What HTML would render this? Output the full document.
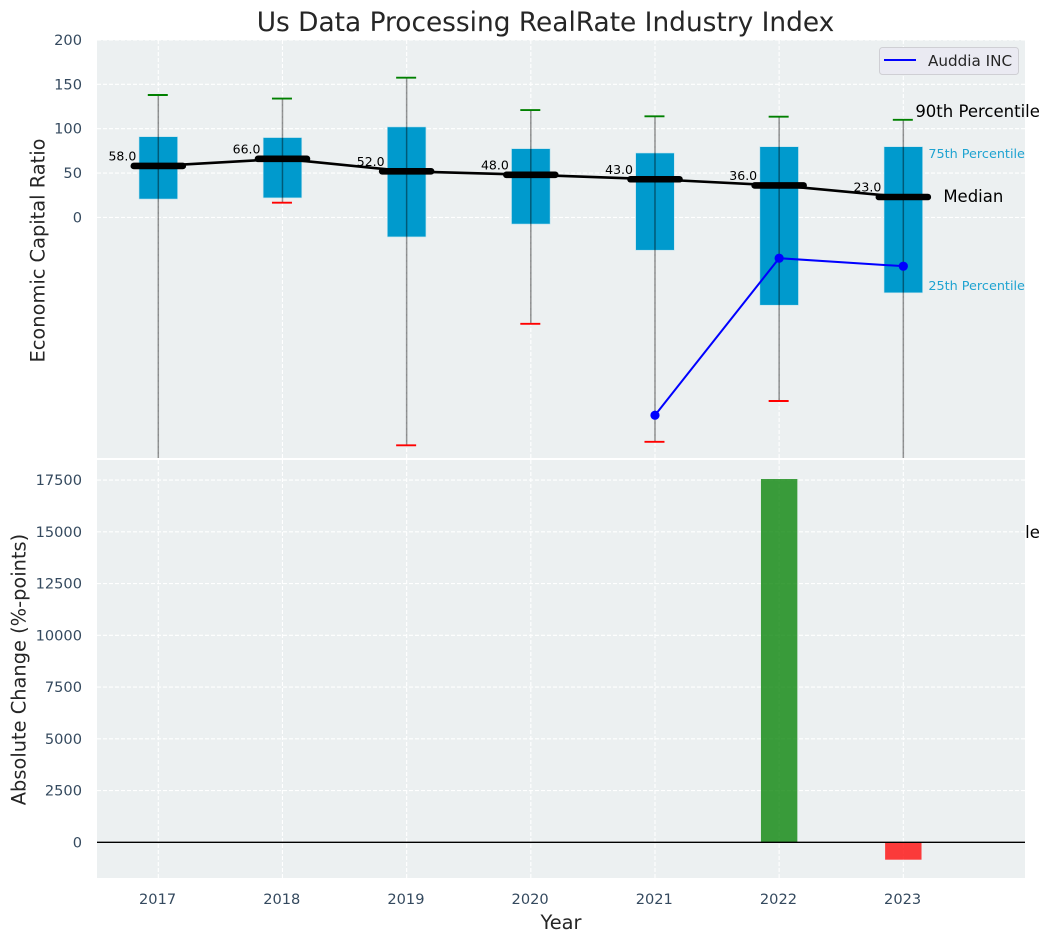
<!DOCTYPE html>
<html lang="en">
<head>
<meta charset="utf-8">
<title>Us Data Processing RealRate Industry Index</title>
<style>
html,body{margin:0;padding:0;background:#fff;width:1050px;height:942px;overflow:hidden}
svg{display:block;font-family:"DejaVu Sans","Liberation Sans",sans-serif}
.tick{font-size:14.6px;fill:#34495e}
.ax{font-size:19.4px;fill:#262626}
.val{font-size:12.5px;fill:#000}
.ann{font-size:16.5px;fill:#000}
.ann2{font-size:12.8px;fill:#1fa3d1}
</style>
</head>
<body>
<svg id="chart" xmlns="http://www.w3.org/2000/svg" width="1050" height="942" viewBox="0 0 1050 942">
  <defs>
    <clipPath id="top-clip"><rect x="97" y="40" width="928" height="418"></rect></clipPath>
    <clipPath id="bot-clip"><rect x="97" y="460" width="928" height="418"></rect></clipPath>
  </defs>
  <rect x="0" y="0" width="1050" height="942" fill="#fff"></rect>
  <rect x="97" y="40" width="928" height="418" fill="#ecf0f1"></rect>
  <g id="top-grid"></g>
  <g id="top-marks" clip-path="url(#top-clip)"></g>
  <g id="annotations"></g>
  <rect x="97" y="460" width="928" height="418" fill="#ecf0f1"></rect>
  <g id="bot-grid"></g>
  <g id="bot-marks" clip-path="url(#bot-clip)"></g>
  <g id="tick-labels"></g>

  <text x="545.5" y="31" text-anchor="middle" font-size="26.4" fill="#262626">Us Data Processing RealRate Industry Index</text>
  <text transform="translate(44.5,250.5) rotate(-90)" text-anchor="middle" class="ax">Economic Capital Ratio</text>
  <text transform="translate(25.5,669.5) rotate(-90)" text-anchor="middle" class="ax">Absolute Change (%-points)</text>
  <text x="561" y="929" text-anchor="middle" class="ax">Year</text>

  <g>
    <rect x="879.5" y="47.5" width="139" height="27" rx="3" fill="#eaeaf2" stroke="#cfcfd4" stroke-width="1"></rect>
    <line x1="884" y1="60" x2="916" y2="60" stroke="#0000ff" stroke-width="2"></line>
    <text x="928" y="66" font-size="15.2" fill="#262626">Auddia INC</text>
  </g>
</svg>
<script>
// ---- chart data ----
var years = [2017, 2018, 2019, 2020, 2021, 2022, 2023];
var p90 = [138, 134, 157.5, 121, 114, 113.5, 110];
var p75 = [91, 90, 102, 77.5, 72.6, 79.7, 79.7];
var medians = [58, 66, 52, 48, 43, 36, 23];
var p25 = [20.7, 22, -22, -7.5, -37, -99, -85];
var p10 = [-400, 16.6, -257, -120, -253, -207, -360];
var auddia = [null, null, null, null, -223, -46, -55];
var absChange = [0, 0, 0, 0, 0, 17550, -840];
var topTicks = [0, 50, 100, 150, 200];
var botTicks = [0, 2500, 5000, 7500, 10000, 12500, 15000, 17500];

// ---- axis functions ----
function xScale(year) { return 158.3 + (year - 2017) * 124.17; }
function yTop(v) { return 217.4 - v * 0.887; }
function yBot(v) { return 842.3 - v * 0.0207; }

var NS = 'http://www.w3.org/2000/svg';
function make(parent, tag, attrs, text) {
  var el = document.createElementNS(NS, tag);
  for (var k in attrs) { el.setAttribute(k, attrs[k]); }
  if (text !== undefined) { el.textContent = text; }
  parent.appendChild(el);
  return el;
}
var gridTop = document.getElementById('top-grid');
var gridBot = document.getElementById('bot-grid');
var marksTop = document.getElementById('top-marks');
var marksBot = document.getElementById('bot-marks');
var labels = document.getElementById('tick-labels');
var notes = document.getElementById('annotations');
var gridStyle = { stroke: '#ffffff', 'stroke-width': 1.1, 'stroke-dasharray': '4 2' };

function gridLine(parent, x1, y1, x2, y2, name) {
  var attrs = { x1: x1, y1: y1, x2: x2, y2: y2 };
  for (var k in gridStyle) { attrs[k] = gridStyle[k]; }
  var el = make(parent, 'line', attrs);
  
  
}

topTicks.forEach(function (t) {
  gridLine(gridTop, 97, yTop(t), 1025, yTop(t), 'top-gridline-y');
  var el = make(labels, 'text', { x: 82, y: yTop(t) + 5, 'text-anchor': 'end', 'class': 'tick' }, String(t));
  
  
});
botTicks.forEach(function (t) {
  gridLine(gridBot, 97, yBot(t), 1025, yBot(t), 'bottom-gridline-y');
  var el = make(labels, 'text', { x: 82, y: yBot(t) + 5, 'text-anchor': 'end', 'class': 'tick' }, String(t));
  
  
});

years.forEach(function (yr, i) {
  var x = xScale(yr);
  gridLine(gridTop, x, 40, x, 458, 'top-gridline-x');
  gridLine(gridBot, x, 460, x, 878, 'bottom-gridline-x');
  var tl = make(labels, 'text', { x: x - 0.7, y: 904, 'text-anchor': 'middle', 'class': 'tick' }, String(yr));
  
  

  // interquartile box
  var box = make(marksTop, 'rect', { x: x - 19.3, y: yTop(p75[i]), width: 38.6, height: yTop(p25[i]) - yTop(p75[i]), fill: '#009acd', stroke: '#bfe3ee', 'stroke-width': 0.6 });
  
  

  // whisker
  var wh = make(marksTop, 'line', { x1: x, y1: yTop(p90[i]), x2: x, y2: yTop(p10[i]), stroke: '#000', 'stroke-opacity': 0.42, 'stroke-width': 1.5 });
  
  

  // caps
  var capHi = make(marksTop, 'line', { x1: x - 10.5, y1: yTop(p90[i]), x2: x + 9.5, y2: yTop(p90[i]), stroke: '#008000', 'stroke-width': 1.9 });
  
  
  var capLo = make(marksTop, 'line', { x1: x - 10.5, y1: yTop(p10[i]), x2: x + 9.5, y2: yTop(p10[i]), stroke: '#ff0000', 'stroke-width': 1.9 });
  
  

  // printed median value
  var val = make(marksTop, 'text', { x: x - 22, y: yTop(medians[i]) - 5.3, 'text-anchor': 'end', 'class': 'val' }, medians[i].toFixed(1));
  
  

  // change bar
  var v = absChange[i];
  var bar = make(marksBot, 'rect', { x: x - 18.2, y: Math.min(yBot(v), yBot(0)), width: 36.4, height: Math.abs(yBot(v) - yBot(0)), fill: v >= 0 ? '#008000' : '#ff0000', 'fill-opacity': 0.76 });
  
  
});

// median connecting line
var medPts = years.map(function (yr, i) { return xScale(yr) + ',' + yTop(medians[i]); }).join(' ');
var medLine = make(marksTop, 'polyline', { points: medPts, fill: 'none', stroke: '#000', 'stroke-width': 2.6 });



// thick median bars
years.forEach(function (yr, i) {
  var x = xScale(yr);
  var m = make(marksTop, 'line', { x1: x - 24.5, y1: yTop(medians[i]), x2: x + 24.5, y2: yTop(medians[i]), stroke: '#000', 'stroke-width': 6.6, 'stroke-linecap': 'round' });
  
  
});

// company series
var aPts = [];
years.forEach(function (yr, i) {
  if (auddia[i] !== null) { aPts.push(xScale(yr) + ',' + yTop(auddia[i])); }
});
var aLine = make(marksTop, 'polyline', { points: aPts.join(' '), fill: 'none', stroke: '#0000ff', 'stroke-width': 2 });


years.forEach(function (yr, i) {
  if (auddia[i] === null) { return; }
  var pt = make(marksTop, 'circle', { cx: xScale(yr), cy: yTop(auddia[i]), r: 4.6, fill: '#0000ff' });
  
  
});

// zero line of the change panel
var zero = make(marksBot, 'line', { x1: 97, y1: yBot(0), x2: 1025, y2: yBot(0), stroke: '#000', 'stroke-width': 1.3 });



// percentile annotations beside the final box
var last = years.length - 1;
var lx = xScale(years[last]);
var a90 = make(notes, 'text', { x: lx + 12, y: yTop(p90[last]) - 3, 'class': 'ann' }, '90th Percentile');


var a75 = make(notes, 'text', { x: lx + 25, y: yTop(p75[last]) + 11.5, 'class': 'ann2' }, '75th Percentile');


var aMed = make(notes, 'text', { x: lx + 40, y: yTop(medians[last]) + 5, 'class': 'ann' }, 'Median');


var a25 = make(notes, 'text', { x: lx + 25, y: yTop(p25[last]) - 3, 'class': 'ann2' }, '25th Percentile');


var a10 = make(notes, 'text', { x: lx + 12, y: yTop(p10[last]) + 1.5, 'class': 'ann' }, '10th Percentile');


</script>
</body>
</html>
